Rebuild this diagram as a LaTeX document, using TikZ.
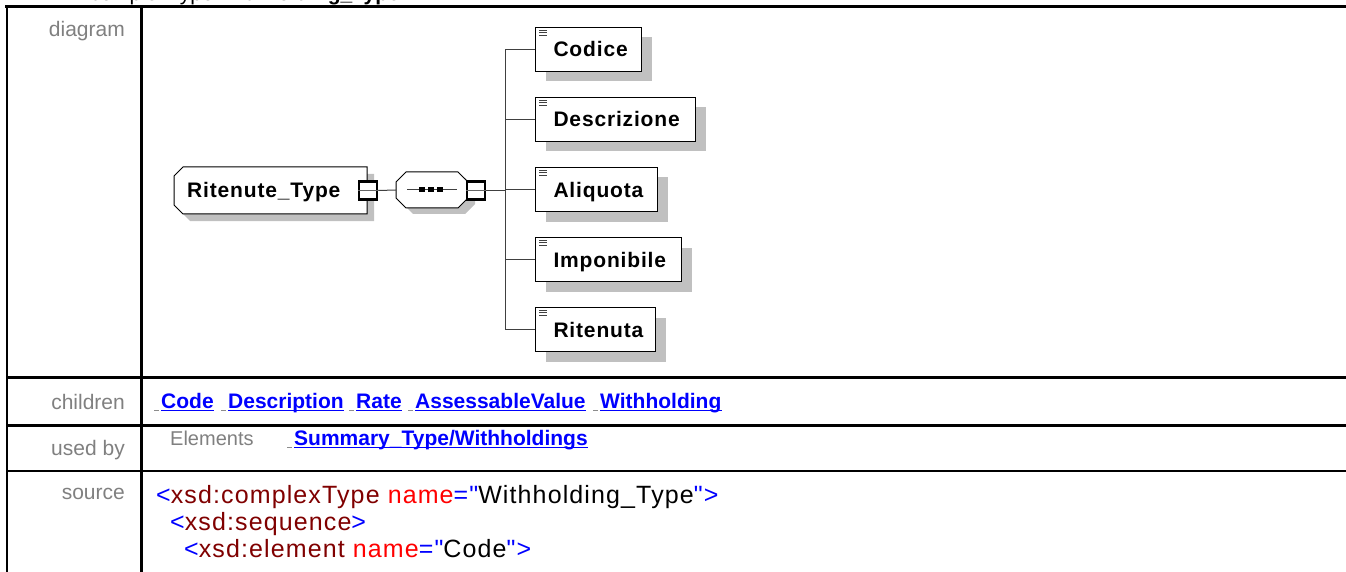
\documentclass[tikz,border=0pt]{standalone}
\usepackage{fontspec}
\setmainfont{Liberation Sans}
\newfontfamily\dgfont{Liberation Sans}[LetterSpace=4]
\newfontfamily\srcfont{Liberation Sans}[LetterSpace=4.5]
\usetikzlibrary{shadows}
\definecolor{lblc}{HTML}{808080}
\definecolor{lnk}{HTML}{0000FF}
\definecolor{tagc}{HTML}{800000}
\definecolor{attc}{HTML}{FF0000}
\definecolor{shd}{HTML}{C0C0C0}
\definecolor{connc}{HTML}{404040}
\begin{document}
\begin{tikzpicture}[x=1pt,y=-1pt,
  gridline/.style={line width=2.5pt, draw=black},
  lbl/.style={anchor=base east, inner sep=0, text=lblc, font=\fontsize{21}{25}\selectfont},
  lnkst/.style={anchor=base west, inner sep=0, text=lnk, font=\fontsize{21}{25}\selectfont\bfseries},
  uline/.style={draw=lnk, line width=1.5pt},
  icon/.style={draw=black!45, line width=1pt},
  elem/.style={draw=black, line width=1pt, fill=white, anchor=north west, inner sep=0,
    minimum height=44pt, text height=15pt, text depth=0pt, align=left,
    font=\fontsize{21}{25}\dgfont\bfseries,
    drop shadow={opacity=1, fill=shd, draw=none, shadow xshift=10pt, shadow yshift=-10pt}},
  minus/.style={draw=black, line width=2.5pt, fill=white, minimum size=18pt, inner sep=0},
  conn/.style={draw=connc, line width=1pt},
  src/.style={anchor=base west, inner sep=0, font=\fontsize{25}{29}\srcfont},
]
\useasboundingbox (0,0) rectangle (1346,572);
\clip (0,0) rectangle (1346,572);
\fill[white] (0,0) rectangle (1346,572);

% cut-off header
\node[anchor=base east, inner sep=0, font=\fontsize{21}{25}\selectfont] (hdr) at (400,0.5) {complexType \textbf{Withholding\_Type}};

% table grid
\draw[gridline] (5,6.5) -- (1350,6.5);
\draw[gridline] (7,5.25) -- (7,580);
\draw[gridline] (141.5,5.25) -- (141.5,580);
\draw[gridline] (6,377.5) -- (1350,377.5);
\draw[gridline] (6,425.5) -- (1350,425.5);
\draw[gridline] (6,471) -- (1350,471);

% row labels
\node[lbl] (ldiag) at (125,37) {diagram};
\node[lbl] (lchild) at (125,409) {children};
\node[lbl] (lused) at (125,455) {used by};
\node[lbl] (lsrc) at (125,499) {source};

% ---------- diagram ----------
% Ritenute_Type complex type box
\fill[shd] (190,174) -- (374,174) -- (374,221) -- (190,221) -- (181,212) -- (181,183) -- cycle;
\draw[line width=1pt, fill=white] (183,167) -- (367,167) -- (367,214) -- (183,214) -- (174,205) -- (174,176) -- cycle;
\node[anchor=base west, inner sep=0, font=\fontsize{21}{25}\dgfont\bfseries] (rt) at (187,197) {Ritenute\_Type};
\node[minus] (rtm) at (368,190.5) {};
\draw[line width=0.8pt, draw=black!60] (rtm.west) -- (rtm.east);

% sequence compositor
\fill[shd] (413,178) -- (465,178) -- (475,188) -- (475,204) -- (465,214) -- (413,214) -- (403,204) -- (403,188) -- cycle;
\draw[line width=1pt, fill=white] (406,172) -- (458,172) -- (468,182) -- (468,198) -- (458,208) -- (406,208) -- (396,198) -- (396,182) -- cycle;
\node[inner sep=0, minimum width=72pt, minimum height=36pt] (seq) at (432,190) {};
\draw[line width=1pt, draw=connc] (407,190) -- (457,190);
\foreach \cx in {422,431,440} \fill[black] (\cx-3,187.5) rectangle (\cx+3,192.5);
\node[minus] (seqm) at (476,190.5) {};
\draw[line width=0.8pt, draw=black!60] (seqm.west) -- (seqm.east);

\draw[conn] (rtm.east) -- (seq.west);

% child elements
\node[elem, text width=106pt] (codice) at (535,27) {\hspace*{18pt}Codice};
\node[elem, text width=160pt] (descr) at (535,97) {\hspace*{18pt}Descrizione};
\node[elem, text width=122pt] (aliq) at (535,167) {\hspace*{18pt}Aliquota};
\node[elem, text width=146pt] (impon) at (535,237) {\hspace*{18pt}Imponibile};
\node[elem, text width=120pt] (riten) at (535,307) {\hspace*{18pt}Ritenuta};
\foreach \n in {codice,descr,aliq,impon,riten}
  \foreach \dy in {3,5.5,8}
    \draw[line width=0.8pt, draw=black!75] ([shift={(4,\dy)}]\n.north west) -- ++(8,0);

\coordinate (tk) at (505,190.5);
\draw[conn] (seqm.east) -- (tk);
\draw[conn] (codice.west) -- (codice.west -| tk) -- (riten.west -| tk) -- (riten.west);
\foreach \n in {descr,aliq,impon}
  \draw[conn] (\n.west) -- (\n.west -| tk);

% ---------- children row ----------
\node[lnkst] (cCode) at (161,408) {Code};
\node[lnkst] (cDesc) at (228,408) {Description};
\node[lnkst] (cRate) at (356,408) {Rate};
\node[lnkst] (cAss) at (415,408) {AssessableValue};
\node[lnkst] (cWith) at (600,408) {Withholding};
\foreach \n in {cCode,cDesc,cRate,cAss,cWith} {
  \draw[uline] ([shift={(0,2.5)}]\n.base west) -- ([shift={(0,2.5)}]\n.base east);
  \draw[icon] ([shift={(-7,2)}]\n.base west) -- ++(5,0);
}

% ---------- used by row ----------
\node[anchor=base west, inner sep=0, text=lblc, font=\fontsize{20}{24}\selectfont] (uElem) at (170,445) {Elements};
\node[lnkst] (uSum) at (294,445) {Summary\_Type/Withholdings};
\draw[uline] ([shift={(0,2.5)}]uSum.base west) -- ([shift={(0,2.5)}]uSum.base east);
\draw[icon] ([shift={(-7,2)}]uSum.base west) -- ++(5,0);

% ---------- source row ----------
\node[src] (s1) at (156,503) {\textcolor{lnk}{<}\textcolor{tagc}{xsd:complexType} \textcolor{attc}{name}\textcolor{lnk}{="}Withholding\_Type\textcolor{lnk}{">}};
\node[src] (s2) at (170,530) {\textcolor{lnk}{<}\textcolor{tagc}{xsd:sequence}\textcolor{lnk}{>}};
\node[src] (s3) at (184,557) {\textcolor{lnk}{<}\textcolor{tagc}{xsd:element} \textcolor{attc}{name}\textcolor{lnk}{="}Code\textcolor{lnk}{">}};
\end{tikzpicture}
\end{document}
